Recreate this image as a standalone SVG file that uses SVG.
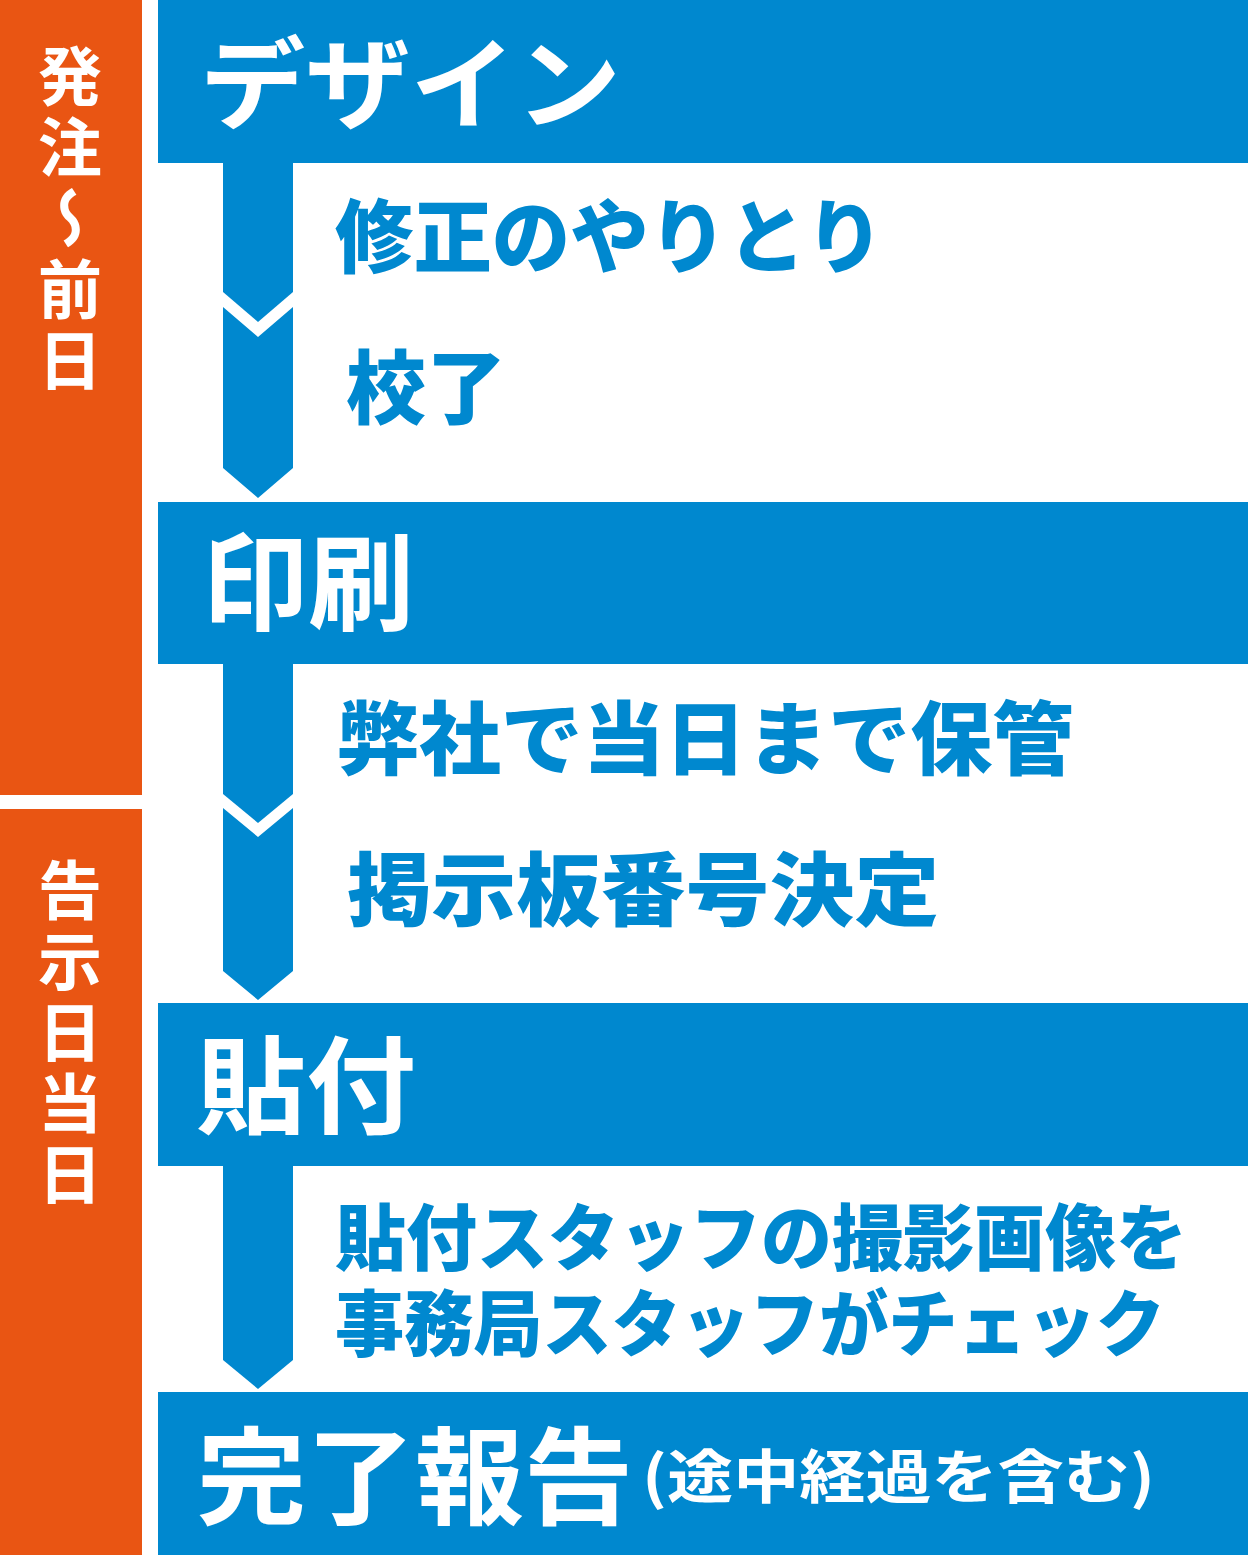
<svg xmlns="http://www.w3.org/2000/svg" width="1248" height="1555" viewBox="0 0 1248 1555">
<defs>
<style>
.orange{fill:#e95513}
.blue{fill:#0088cf}
.head{font-family:"Noto Sans CJK JP","Noto Sans CJK SC",sans-serif;font-weight:700;fill:#ffffff}
.sub{font-family:"Noto Sans CJK JP","Noto Sans CJK SC",sans-serif;font-weight:900;fill:#0088cf}
.side{font-family:"Noto Sans CJK JP","Noto Sans CJK SC",sans-serif;font-weight:700;fill:#ffffff;font-size:64px;writing-mode:vertical-rl;letter-spacing:7px}
</style>
</defs>
<rect width="1248" height="1555" fill="#ffffff"/>
<g id="phase1">
<rect class="orange" x="0" y="0" width="142" height="795"/>
<text class="side" x="70" y="44">発注～前日</text>
</g>
<g id="phase2">
<rect class="orange" x="0" y="809" width="142" height="746"/>
<text class="side" x="70" y="858">告示日当日</text>
</g>
<g id="connectors">
<polygon class="blue" points="223,163 293,163 293,292 258,322 223,292"/>
<polygon class="blue" points="223,307 258,337 293,307 293,468 258,498 223,468"/>
<polygon class="blue" points="223,664 293,664 293,794 258,823 223,794"/>
<polygon class="blue" points="223,808 258,837 293,808 293,971 258,1000 223,971"/>
<polygon class="blue" points="223,1166 293,1166 293,1360 258,1389 223,1360"/>
</g>
<g id="design">
<rect class="blue" x="158" y="0" width="1090" height="163"/>
<text class="head" x="200" y="121" font-size="100" textLength="421" lengthAdjust="spacingAndGlyphs">デザイン</text>
</g>
<g id="step-revise">
<text class="sub" x="335" y="266" font-size="80" textLength="549" lengthAdjust="spacingAndGlyphs">修正のやりとり</text>
</g>
<g id="step-proof">
<text class="sub" x="346" y="417" font-size="80" textLength="160" lengthAdjust="spacingAndGlyphs">校了</text>
</g>
<g id="print">
<rect class="blue" x="158" y="502" width="1090" height="162"/>
<text class="head" x="202" y="622" font-size="106" textLength="212" lengthAdjust="spacingAndGlyphs">印刷</text>
</g>
<g id="step-store">
<text class="sub" x="337" y="768" font-size="80" textLength="737" lengthAdjust="spacingAndGlyphs">弊社で当日まで保管</text>
</g>
<g id="step-number">
<text class="sub" x="347" y="919" font-size="80" textLength="592" lengthAdjust="spacingAndGlyphs">掲示板番号決定</text>
</g>
<g id="posting">
<rect class="blue" x="158" y="1003" width="1090" height="163"/>
<text class="head" x="196" y="1125" font-size="106" textLength="220" lengthAdjust="spacingAndGlyphs">貼付</text>
</g>
<g id="step-check">
<text class="sub" font-size="72"><tspan x="335" y="1264" textLength="852" lengthAdjust="spacingAndGlyphs">貼付スタッフの撮影画像を</tspan><tspan x="335" y="1350" textLength="830" lengthAdjust="spacingAndGlyphs">事務局スタッフがチェック</tspan></text>
</g>
<g id="report">
<rect class="blue" x="158" y="1392" width="1090" height="163"/>
<text class="head" x="197" y="1516" font-size="106" textLength="436" lengthAdjust="spacingAndGlyphs">完了報告</text>
<text class="head" x="642" y="1498" font-size="58" textLength="513" lengthAdjust="spacingAndGlyphs">(途中経過を含む)</text>
</g>
</svg>
